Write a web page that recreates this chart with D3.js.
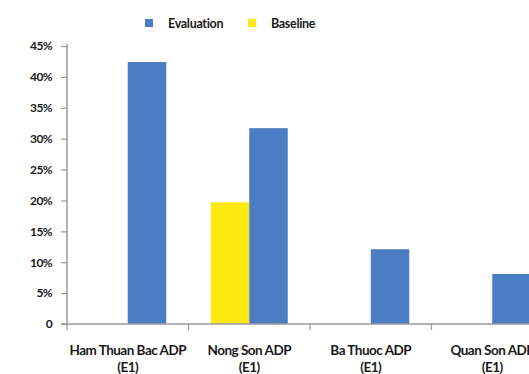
<!DOCTYPE html>
<html>
<head>
<meta charset="utf-8">
<script src="https://cdn.jsdelivr.net/npm/d3@7"></script>
<style>
  html, body { margin: 0; padding: 0; background: #fff; }
  svg { display: block; }
  text { font-family: "Lato", "DejaVu Sans", sans-serif; font-weight: 700; fill: #1a1a1a; }
</style>
</head>
<body>
<svg id="chart" width="529" height="374"></svg>
<script>
// Programme areas (two-line labels) and the share recorded in each survey round
const categories = ["Ham Thuan Bac ADP|(E1)", "Nong Son ADP|(E1)", "Ba Thuoc ADP|(E1)", "Quan Son ADP|(E1)"];
const evaluation = [42.4, 31.7, 12.1, 8.1];
const baseline = [null, 19.7, null, null];
const seriesNames = ["Baseline", "Evaluation"];
const yTicks = [0, 5, 10, 15, 20, 25, 30, 35, 40, 45];
const legendItems = ["Evaluation", "Baseline"];

const colors = { Evaluation: "#4a7dc2", Baseline: "#fbe910" };
const svg = d3.select("#chart");

const plotLeft = 67, plotBottom = 324, plotTop = 46;
const step = 121.5;

const x0 = d3.scaleBand()
  .domain(categories)
  .range([plotLeft, plotLeft + step * categories.length])
  .padding(0);

const x1 = d3.scaleBand()
  .domain(seriesNames)
  .range([x0.bandwidth() / 2 - 38.5, x0.bandwidth() / 2 + 38.5])
  .padding(0);

const y = d3.scaleLinear().domain([0, 45]).range([plotBottom, plotTop]);

const rows = categories.map((c, i) => ({ cat: c, Baseline: baseline[i], Evaluation: evaluation[i] }));

// Bars
const groups = svg.append("g").selectAll("g")
  .data(rows)
  .join("g")
  .attr("transform", d => `translate(${x0(d.cat)},0)`);

groups.selectAll("rect")
  .data(d => seriesNames.filter(k => d[k] != null).map(k => ({ key: k, value: d[k] })))
  .join("rect")
  .attr("x", d => x1(d.key))
  .attr("width", x1.bandwidth())
  .attr("y", d => y(d.value))
  .attr("height", d => y(0) - y(d.value))
  .attr("fill", d => colors[d.key]);

// Y axis
const yAxis = d3.axisLeft(y)
  .tickValues(yTicks)
  .tickSize(6)
  .tickPadding(9)
  .tickFormat(d => d === 0 ? "0" : d + "%");

const yg = svg.append("g")
  .attr("transform", `translate(${plotLeft},0)`)
  .call(yAxis);
yg.select(".domain").attr("stroke", "#9a9a9a").attr("stroke-width", 1.5)
  .attr("d", `M0,${plotTop - 2}V${plotBottom}`);
yg.selectAll(".tick line").attr("stroke", "#9a9a9a").attr("stroke-width", 1.2);
yg.selectAll(".tick text")
  .style("font-size", "12px")
  .style("letter-spacing", "-0.6px")
  .attr("fill", "#1a1a1a");

// X axis: baseline line, boundary ticks between categories
const xAxis = d3.axisBottom(x0).tickSize(0).tickPadding(0).tickFormat("");
const xg = svg.append("g")
  .attr("transform", `translate(0,${plotBottom})`)
  .call(xAxis);
xg.select(".domain").attr("stroke", "#9a9a9a").attr("stroke-width", 1.5)
  .attr("d", `M${plotLeft - 6},0H${plotLeft + step * categories.length}`);

xg.selectAll(".boundary")
  .data(categories)
  .join("line")
  .attr("class", "boundary")
  .attr("x1", d => x0(d)).attr("x2", d => x0(d))
  .attr("y1", 0).attr("y2", 6)
  .attr("stroke", "#9a9a9a").attr("stroke-width", 1.2);

// Category labels
const labels = svg.append("g").selectAll("text")
  .data(categories)
  .join("text")
  .attr("text-anchor", "middle")
  .attr("transform", d => `translate(${x0(d) + x0.bandwidth() / 2},${plotBottom})`)
  .style("font-size", "13.5px")
  .style("letter-spacing", "-0.5px");

labels.selectAll("tspan")
  .data(d => d.split("|"))
  .join("tspan")
  .attr("x", 0)
  .attr("y", (d, i) => 31 + i * 17)
  .text(d => d);

// Legend
const legend = svg.append("g").attr("transform", "translate(145,19)");
const item = legend.selectAll("g")
  .data(legendItems)
  .join("g")
  .attr("transform", (d, i) => `translate(${i * 103},0)`);
item.append("rect").attr("width", 8).attr("height", 8).attr("fill", d => colors[d]);
item.append("text")
  .attr("x", 23).attr("y", 8.5)
  .style("font-size", "12.5px")
  .style("letter-spacing", "-0.3px")
  .text(d => d);
</script>
</body>
</html>
